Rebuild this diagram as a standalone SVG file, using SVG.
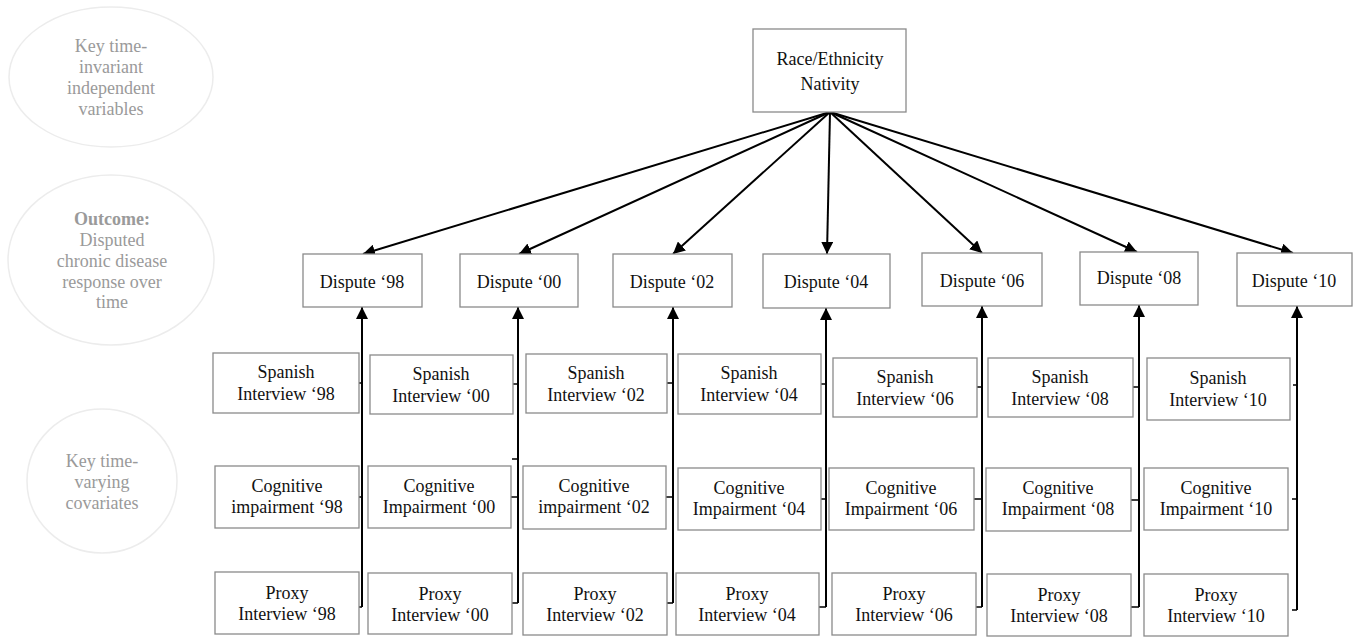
<svg xmlns="http://www.w3.org/2000/svg" width="1359" height="637" viewBox="0 0 1359 637">
<style>
.bg{fill:#fff}
.ell{fill:#fff;stroke:#ececec;stroke-width:1.5}
.etx{font-family:'Liberation Serif','Times New Roman','DejaVu Serif',serif;font-size:18px;fill:#9a9a9a;text-anchor:middle}
.box{fill:#fff;stroke:#8a8a8a;stroke-width:1.3}
.tx{font-family:'Liberation Serif','Times New Roman','DejaVu Serif',serif;font-size:18px;fill:#111;text-anchor:middle}
.ar{stroke:#000;stroke-width:2;fill:none}
.tk{stroke:#000;stroke-width:1.6;fill:none}
</style>
<defs>
<marker id="ah" markerUnits="userSpaceOnUse" markerWidth="12" markerHeight="12" refX="12" refY="6" orient="auto" viewBox="0 0 12 12">
<path d="M0,0 L12,6 L0,12 z" fill="#000"/>
</marker>
</defs>
<rect class="bg" x="0" y="0" width="1359" height="637"/>
<g id="legend">
<g id="leg1"><ellipse class="ell" cx="111" cy="77" rx="102" ry="70"/>
<text class="etx" x="111" y="52">Key time-</text><text class="etx" x="111" y="73">invariant</text><text class="etx" x="111" y="94">independent</text><text class="etx" x="111" y="115">variables</text></g>
<g id="leg2"><ellipse class="ell" cx="111" cy="260" rx="103" ry="85"/>
<text class="etx" x="112" y="225" font-weight="bold">Outcome:</text><text class="etx" x="112" y="246">Disputed</text><text class="etx" x="112" y="267">chronic disease</text><text class="etx" x="112" y="288">response over</text><text class="etx" x="112" y="308">time</text></g>
<g id="leg3"><ellipse class="ell" cx="102" cy="481" rx="75" ry="72"/>
<text class="etx" x="102" y="467">Key time-</text><text class="etx" x="102" y="488">varying</text><text class="etx" x="102" y="509">covariates</text></g>
</g>
<g id="connectors">
<line class="ar" x1="830" y1="112" x2="363" y2="254" marker-end="url(#ah)"/>
<line class="ar" x1="830" y1="112" x2="519" y2="254" marker-end="url(#ah)"/>
<line class="ar" x1="830" y1="112" x2="673" y2="254" marker-end="url(#ah)"/>
<line class="ar" x1="830" y1="112" x2="827" y2="254" marker-end="url(#ah)"/>
<line class="ar" x1="830" y1="112" x2="982" y2="253" marker-end="url(#ah)"/>
<line class="ar" x1="830" y1="112" x2="1137" y2="252" marker-end="url(#ah)"/>
<line class="ar" x1="830" y1="112" x2="1293" y2="253" marker-end="url(#ah)"/>
<line class="ar" x1="362" y1="607" x2="362" y2="307" marker-end="url(#ah)"/>
<line class="ar" x1="518" y1="603" x2="518" y2="307" marker-end="url(#ah)"/>
<line class="ar" x1="673" y1="603" x2="673" y2="307" marker-end="url(#ah)"/>
<line class="ar" x1="826" y1="607" x2="826" y2="308" marker-end="url(#ah)"/>
<line class="ar" x1="982" y1="607" x2="982" y2="306" marker-end="url(#ah)"/>
<line class="ar" x1="1139" y1="607" x2="1139" y2="305" marker-end="url(#ah)"/>
<line class="ar" x1="1297" y1="610" x2="1297" y2="306" marker-end="url(#ah)"/>
<path class="tk" d="M359,383H362M359,497H362M359,607H362
M513,384H518M511,497H518M512,459H518M512,603H518
M667,383H673M666,497H673M667,603H673
M821,384H826M821,499H826M819,607H826
M977,387H982M974,499H982M976,607H982
M1133,387H1139M1131,500H1139M1131,607H1139
M1293,385H1297M1292,499H1297M1292,610H1297"/>
</g>
<g id="race"><rect class="box" x="753" y="29" width="153" height="83"/><text class="tx" x="830" y="65">Race/Ethnicity</text><text class="tx" x="830" y="90">Nativity</text></g>
<g id="d98"><rect class="box" x="303" y="254" width="119" height="53"/><text class="tx" x="362" y="288">Dispute ‘98</text></g>
<g id="d00"><rect class="box" x="460" y="254" width="118" height="53"/><text class="tx" x="519" y="288">Dispute ‘00</text></g>
<g id="d02"><rect class="box" x="613" y="254" width="119" height="53"/><text class="tx" x="672" y="288">Dispute ‘02</text></g>
<g id="d04"><rect class="box" x="763" y="254" width="127" height="54"/><text class="tx" x="826" y="288">Dispute ‘04</text></g>
<g id="d06"><rect class="box" x="922" y="253" width="120" height="53"/><text class="tx" x="982" y="287">Dispute ‘06</text></g>
<g id="d08"><rect class="box" x="1080" y="252" width="118" height="53"/><text class="tx" x="1139" y="284">Dispute ‘08</text></g>
<g id="d10"><rect class="box" x="1237" y="253" width="115" height="53"/><text class="tx" x="1294" y="287">Dispute ‘10</text></g>
<g id="s98"><rect class="box" x="213" y="353" width="146" height="60"/><text class="tx" x="286" y="378">Spanish</text><text class="tx" x="286" y="400">Interview ‘98</text></g>
<g id="s00"><rect class="box" x="370" y="355" width="143" height="59"/><text class="tx" x="441" y="380">Spanish</text><text class="tx" x="441" y="402">Interview ‘00</text></g>
<g id="s02"><rect class="box" x="526" y="354" width="141" height="59"/><text class="tx" x="596" y="379">Spanish</text><text class="tx" x="596" y="401">Interview ‘02</text></g>
<g id="s04"><rect class="box" x="678" y="354" width="143" height="60"/><text class="tx" x="749" y="379">Spanish</text><text class="tx" x="749" y="401">Interview ‘04</text></g>
<g id="s06"><rect class="box" x="833" y="358" width="144" height="59"/><text class="tx" x="905" y="383">Spanish</text><text class="tx" x="905" y="405">Interview ‘06</text></g>
<g id="s08"><rect class="box" x="988" y="358" width="145" height="59"/><text class="tx" x="1060" y="383">Spanish</text><text class="tx" x="1060" y="405">Interview ‘08</text></g>
<g id="s10"><rect class="box" x="1147" y="358" width="143" height="62"/><text class="tx" x="1218" y="384">Spanish</text><text class="tx" x="1218" y="406">Interview ‘10</text></g>
<g id="c98"><rect class="box" x="215" y="466" width="144" height="62"/><text class="tx" x="287" y="492">Cognitive</text><text class="tx" x="287" y="513">impairment ‘98</text></g>
<g id="c00"><rect class="box" x="368" y="466" width="143" height="62"/><text class="tx" x="439" y="492">Cognitive</text><text class="tx" x="439" y="513">Impairment ‘00</text></g>
<g id="c02"><rect class="box" x="523" y="466" width="143" height="63"/><text class="tx" x="594" y="492">Cognitive</text><text class="tx" x="594" y="513">impairment ‘02</text></g>
<g id="c04"><rect class="box" x="678" y="468" width="143" height="62"/><text class="tx" x="749" y="494">Cognitive</text><text class="tx" x="749" y="515">Impairment ‘04</text></g>
<g id="c06"><rect class="box" x="829" y="468" width="145" height="62"/><text class="tx" x="901" y="494">Cognitive</text><text class="tx" x="901" y="515">Impairment ‘06</text></g>
<g id="c08"><rect class="box" x="986" y="468" width="145" height="63"/><text class="tx" x="1058" y="494">Cognitive</text><text class="tx" x="1058" y="515">Impairment ‘08</text></g>
<g id="c10"><rect class="box" x="1144" y="468" width="144" height="62"/><text class="tx" x="1216" y="494">Cognitive</text><text class="tx" x="1216" y="515">Impairment ‘10</text></g>
<g id="p98"><rect class="box" x="215" y="572" width="144" height="62"/><text class="tx" x="287" y="599">Proxy</text><text class="tx" x="287" y="620">Interview ‘98</text></g>
<g id="p00"><rect class="box" x="368" y="573" width="144" height="61"/><text class="tx" x="440" y="600">Proxy</text><text class="tx" x="440" y="621">Interview ‘00</text></g>
<g id="p02"><rect class="box" x="523" y="573" width="144" height="62"/><text class="tx" x="595" y="600">Proxy</text><text class="tx" x="595" y="621">Interview ‘02</text></g>
<g id="p04"><rect class="box" x="676" y="573" width="143" height="62"/><text class="tx" x="747" y="600">Proxy</text><text class="tx" x="747" y="621">Interview ‘04</text></g>
<g id="p06"><rect class="box" x="832" y="573" width="144" height="62"/><text class="tx" x="904" y="600">Proxy</text><text class="tx" x="904" y="621">Interview ‘06</text></g>
<g id="p08"><rect class="box" x="987" y="574" width="144" height="62"/><text class="tx" x="1059" y="601">Proxy</text><text class="tx" x="1059" y="622">Interview ‘08</text></g>
<g id="p10"><rect class="box" x="1144" y="574" width="144" height="62"/><text class="tx" x="1216" y="601">Proxy</text><text class="tx" x="1216" y="622">Interview ‘10</text></g>
</svg>
